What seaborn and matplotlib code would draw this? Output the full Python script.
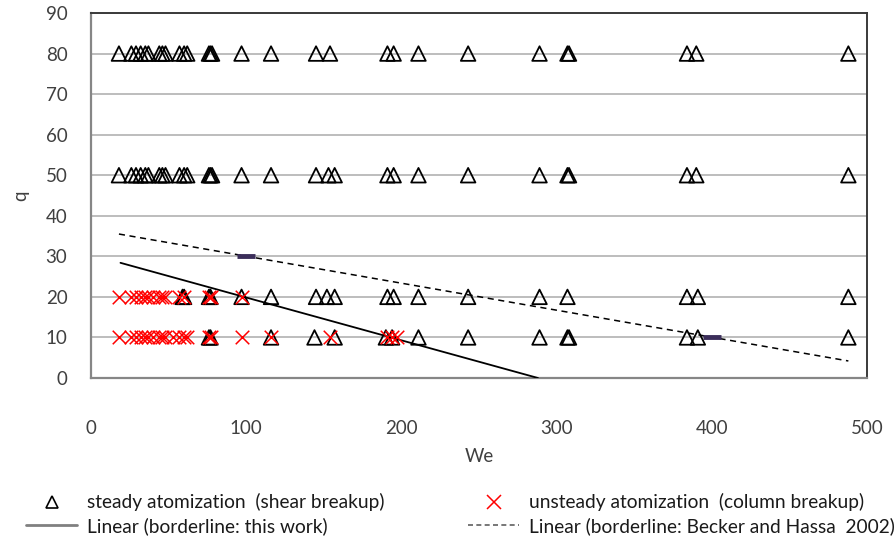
import matplotlib
matplotlib.use("Agg")
import matplotlib.pyplot as plt
import seaborn as sns
import pandas as pd
from matplotlib.lines import Line2D

# ---- data ----
steady_we_q80 = [18, 26, 29, 32, 35, 37, 44, 46, 48, 57, 60, 62, 76, 77, 78, 97, 116, 145, 154,
                 191, 195, 211, 243, 289, 307, 308, 384, 390, 488]
steady_we_q50 = [18, 26, 29, 32, 35, 37, 44, 46, 48, 57, 60, 62, 76, 77, 78, 97, 116, 145, 153, 157,
                 191, 195, 211, 243, 289, 307, 308, 384, 390, 488]
steady_we_q20 = [59, 60, 76, 77, 97, 116, 145, 152, 157, 191, 195, 211, 243, 289, 307, 384, 391, 488]
steady_we_q10 = [76, 77, 116, 144, 157, 190, 194, 211, 243, 289, 307, 308, 384, 391, 488]

unsteady_we_q20 = [18, 26, 29, 32, 35, 37, 40, 44, 46, 48, 57, 60, 76, 77, 97]
unsteady_we_q10 = [18, 26, 29, 32, 35, 37, 40, 44, 46, 48, 53, 57, 60, 62, 76, 77, 97, 116, 154,
                   191, 194, 197]

border_this_we = [19, 288]
border_this_q = [28.4, 0]
border_becker_we = [18, 488]
border_becker_q = [35.5, 4.2]
becker_pts_we = [100, 400]
becker_pts_q = [30, 10]

x_ticks = [0, 100, 200, 300, 400, 500]
y_ticks = [0, 10, 20, 30, 40, 50, 60, 70, 80, 90]

labels = ["steady atomization  (shear breakup)", "Linear (borderline: this work)",
          "unsteady atomization  (column breakup)", "Linear (borderline: Becker and Hassa  2002)"]

# ---- frames ----
steady = pd.DataFrame({
    "We": steady_we_q80 + steady_we_q50 + steady_we_q20 + steady_we_q10,
    "q": [80] * len(steady_we_q80) + [50] * len(steady_we_q50)
         + [20] * len(steady_we_q20) + [10] * len(steady_we_q10),
})
unsteady = pd.DataFrame({
    "We": unsteady_we_q20 + unsteady_we_q10,
    "q": [20] * len(unsteady_we_q20) + [10] * len(unsteady_we_q10),
})
line_this = pd.DataFrame({"We": border_this_we, "q": border_this_q})
line_becker = pd.DataFrame({"We": border_becker_we, "q": border_becker_q})
becker_pts = pd.DataFrame({"We": becker_pts_we, "q": becker_pts_q})

sns.set_theme(style="white")
plt.rcParams["font.family"] = ["Lato", "DejaVu Sans"]

fig = plt.figure(figsize=(8.96, 5.46), dpi=100)
ax = fig.add_axes([91 / 896, 1 - 378 / 546, (867 - 91) / 896, (378 - 13) / 546])

ax.grid(axis="y", color="#ababab", linewidth=1.1)
ax.set_axisbelow(True)

sns.lineplot(data=line_this, x="We", y="q", ax=ax, color="black", linewidth=1.3, zorder=3)
sns.lineplot(data=line_becker, x="We", y="q", ax=ax, color="black", linewidth=1.1,
             linestyle=(0, (4, 3)), zorder=3)
sns.scatterplot(data=becker_pts, x="We", y="q", ax=ax, marker="_", s=160, color="#3b2e5a",
                linewidth=3.5, zorder=4)

sns.scatterplot(data=steady, x="We", y="q", ax=ax, marker="^", s=110,
                facecolor="none", edgecolor="black", linewidth=1.3, zorder=5)
sns.scatterplot(data=unsteady, x="We", y="q", ax=ax, marker="x", s=95,
                color="red", linewidth=1.1, zorder=6)
for coll in ax.collections[-2:-1]:
    coll.set_facecolor("none")
    coll.set_edgecolor("black")

ax.set_xlim(0, 500)
ax.set_ylim(0, 90)
ax.set_xticks(x_ticks)
ax.set_yticks(y_ticks)
ax.tick_params(axis="both", length=0, labelsize=13.5, colors="#404040")
ax.tick_params(axis="x", pad=30)
ax.tick_params(axis="y", pad=17)
ax.set_xlabel("We", fontsize=13.5, color="#404040", labelpad=8)
ax.set_ylabel("q", fontsize=13.5, color="#404040", labelpad=12)

for side in ["left", "bottom"]:
    ax.spines[side].set_color("#868686")
    ax.spines[side].set_linewidth(1.6)
for side in ["top", "right"]:
    ax.spines[side].set_color("#3a3a3a")
    ax.spines[side].set_linewidth(1.4)
    ax.spines[side].set_visible(True)

handles = [
    Line2D([], [], linestyle="none", marker="^", markersize=8, markerfacecolor="none",
           markeredgecolor="black", markeredgewidth=1.2),
    Line2D([], [], color="#808080", linewidth=2),
    Line2D([], [], linestyle="none", marker="x", markersize=10, color="red", markeredgewidth=1.1),
    Line2D([], [], color="#606060", linewidth=1.2, linestyle=(0, (3, 2))),
]
fig.legend(handles, labels, ncol=2, loc="upper left", bbox_to_anchor=(9 / 896, 1 - 476 / 546),
           frameon=False, fontsize=13.8, handlelength=2.65, handletextpad=0.5,
           columnspacing=4.4, labelspacing=0.3, labelcolor="#1a1a1a")

fig.savefig("out.png", dpi=100)
